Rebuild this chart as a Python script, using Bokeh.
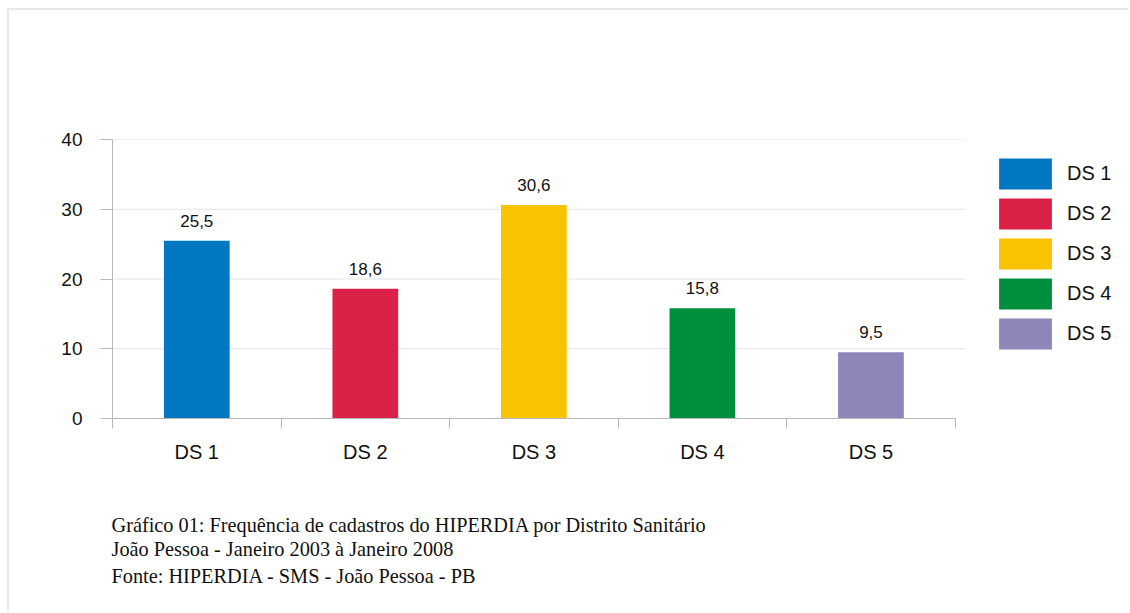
from bokeh.plotting import figure
from bokeh.models import (Range1d, FixedTicker, Legend, LegendItem, Title,
                          ColumnDataSource)
from bokeh.embed import file_html
from bokeh.resources import INLINE
from bokeh.core.properties import value

# HIPERDIA registrations by health district (%)
districts = ["DS 1", "DS 2", "DS 3", "DS 4", "DS 5"]
share = [25.5, 18.6, 30.6, 15.8, 9.5]
colors = ["#0078C1", "#DC2149", "#F8C300", "#008F3D", "#8E85B9"]
y_ticks = [0, 10, 20, 30, 40]
caption_lines = [
    "Gráfico 01: Frequência de cadastros do HIPERDIA por Distrito Sanitário",
    "João Pessoa - Janeiro 2003 à Janeiro 2008",
    "Fonte: HIPERDIA - SMS - João Pessoa - PB",
]

SANS = "Liberation Sans"
SERIF = "Liberation Serif"
INK = "#111111"
GRID_END = 5.06     # horizontal rules run a little past the last category
X_END = 6.04        # frame continues to the right edge, leaving room for the legend

n = len(districts)
centers = [i + 0.5 for i in range(n)]
bounds = list(range(n + 1))
labels = [f"{v:.1f}".replace(".", ",") for v in share]

src = ColumnDataSource(dict(x=centers, top=share, color=colors,
                            name=districts, label=labels))
grid_src = ColumnDataSource(dict(x0=[0] * (len(y_ticks) - 1),
                                 x1=[GRID_END] * (len(y_ticks) - 1),
                                 y=y_ticks[1:]))

p = figure(width=1121, height=603, output_backend="svg", toolbar_location=None,
           title=None, x_range=Range1d(0, X_END), y_range=Range1d(0, 40),
           min_border_left=103, min_border_top=129,
           min_border_right=0, min_border_bottom=195)
p.margin = (8, 0, 0, 7)
p.styles = {"border-left": "2px solid #e8e8e8", "border-top": "2px solid #e8e8e8"}
p.outline_line_color = None
p.background_fill_color = "white"
p.border_fill_color = "white"
p.xgrid.visible = False
p.ygrid.visible = False

# horizontal gridlines
p.segment(x0="x0", x1="x1", y0="y", y1="y", source=grid_src,
          line_color="#e4e4e4", line_width=1)

bars = p.vbar(x="x", top="top", width=0.39, source=src,
              fill_color="color", line_color=None)

# value labels above the bars
p.text(x="x", y="top", text="label", source=src, text_align="center",
       text_baseline="alphabetic", y_offset=-20,
       text_font=value(SANS), text_font_size=value("17px"), text_color=INK)

# axes
axis_grey = "#b8b8b8"
xa = p.xaxis[0]
xa.ticker = FixedTicker(ticks=centers, minor_ticks=bounds)
xa.bounds = (0, n)
xa.major_label_overrides = {c: d for c, d in zip(centers, districts)}
xa.major_tick_line_color = None
xa.major_tick_out = 0
xa.major_tick_in = 0
xa.minor_tick_out = 10
xa.minor_tick_in = 0
xa.minor_tick_line_color = axis_grey
xa.axis_line_color = axis_grey
xa.major_label_standoff = 12
xa.major_label_text_font = SANS
xa.major_label_text_font_size = "20px"
xa.major_label_text_color = INK

ya = p.yaxis[0]
ya.ticker = FixedTicker(ticks=y_ticks)
ya.axis_line_color = axis_grey
ya.major_tick_line_color = axis_grey
ya.major_tick_out = 12
ya.major_tick_in = 0
ya.minor_tick_line_color = None
ya.major_label_standoff = 18
ya.major_label_text_font = SANS
ya.major_label_text_font_size = "19px"
ya.major_label_text_color = INK

legend = Legend(
    items=[LegendItem(label=d, renderers=[bars], index=i) for i, d in enumerate(districts)],
    location=(880, 65), padding=0, margin=0, spacing=1,
    glyph_width=66, glyph_height=39, label_height=39, label_standoff=9,
    label_text_font=SANS, label_text_font_size="20px", label_text_color=INK,
    border_line_color=None, background_fill_alpha=0,
)
p.add_layout(legend)

# caption block under the x axis
p.add_layout(Title(text=" ", text_font=SERIF, text_font_size="20px",
                   standoff=22), "below")
caption_standoffs = [0, 0, 6]
for line, so in zip(caption_lines, caption_standoffs):
    p.add_layout(Title(text=line, align="left", offset=-1, standoff=so,
                       vertical_align="bottom", text_font=SERIF,
                       text_font_size="20.3px", text_font_style="normal",
                       text_color=INK), "below")

open("out.html", "w").write(file_html(p, INLINE))
